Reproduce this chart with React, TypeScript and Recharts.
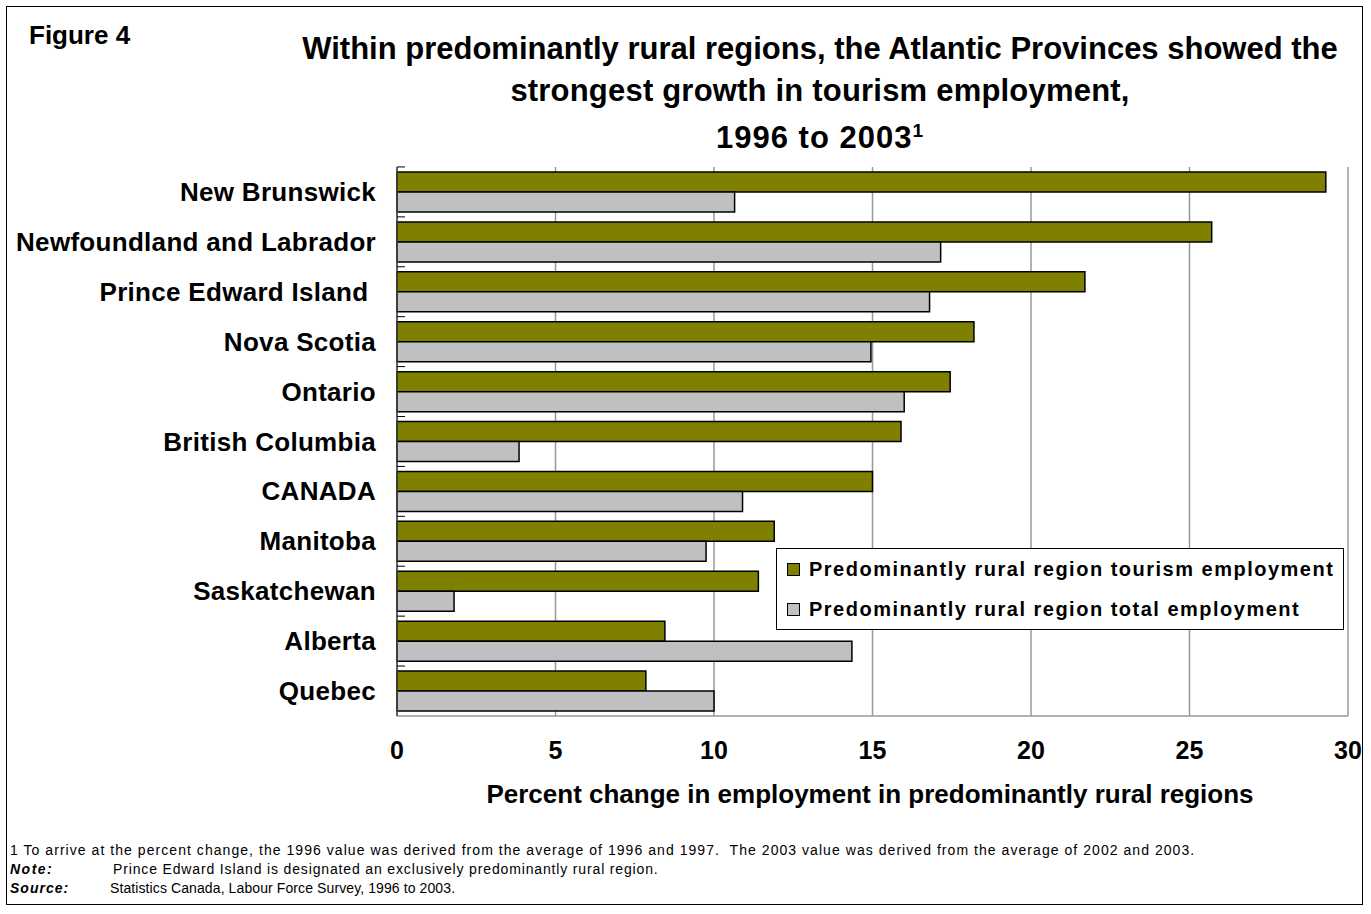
import { Bar, BarChart, CartesianGrid, Legend, XAxis, YAxis } from "recharts";

const regions = [
  "New Brunswick",
  "Newfoundland and Labrador",
  "Prince Edward Island ",
  "Nova Scotia",
  "Ontario",
  "British Columbia",
  "CANADA",
  "Manitoba",
  "Saskatchewan",
  "Alberta",
  "Quebec",
];
const tourismEmployment = [29.3, 25.7, 21.7, 18.2, 17.45, 15.9, 15.0, 11.9, 11.4, 8.45, 7.85];
const totalEmployment = [10.65, 17.15, 16.8, 14.95, 16.0, 3.85, 10.9, 9.75, 1.8, 14.35, 10.0];
const xTicks = [0, 5, 10, 15, 20, 25, 30];

const seriesNames = {
  tourism: "Predominantly rural region tourism employment",
  total: "Predominantly rural region total employment",
};

const data = regions.map((region, i) => ({
  region,
  tourism: tourismEmployment[i],
  total: totalEmployment[i],
}));

const font = "Arial, 'Liberation Sans', sans-serif";

const RegionTick = ({ x, y, payload }: any) => (
  <g>
    <line x1={397} x2={405} y1={y - 25} y2={y - 25} stroke="#000" strokeWidth={1} />
    <text
      x={x}
      y={y}
      textAnchor="end"
      dominantBaseline="central"
      fontFamily={font}
      fontSize={26}
      fontWeight="bold"
      letterSpacing={0.3}
      fill="#000"
      style={{ whiteSpace: "pre" }}
    >
      {payload.value}
    </text>
  </g>
);

const LegendBox = () => (
  <div
    style={{
      border: "1.5px solid #000",
      background: "#fff",
      width: 568,
      height: 82,
      boxSizing: "border-box",
      padding: "0 0 0 10px",
      fontFamily: font,
      fontWeight: "bold",
      fontSize: 20,
      letterSpacing: 1.5,
      textAlign: "left",
    }}
  >
    {[
      { name: seriesNames.tourism, color: "#808000" },
      { name: seriesNames.total, color: "#C0C0C0" },
    ].map((item) => (
      <div key={item.name} style={{ display: "flex", alignItems: "center", height: 40 }}>
        <span
          style={{
            width: 11,
            height: 11,
            background: item.color,
            border: "1.5px solid #000",
            marginRight: 9,
            flexShrink: 0,
          }}
        />
        {item.name}
      </div>
    ))}
  </div>
);

export default function App() {
  return (
    <div
      style={{
        position: "absolute",
        left: 0,
        top: 0,
        width: 1371,
        height: 914,
        background: "#fff",
        fontFamily: font,
        color: "#000",
      }}
    >
      <div
        style={{
          position: "absolute",
          left: 6,
          top: 6,
          width: 1357,
          height: 899,
          border: "1.5px solid #000",
          boxSizing: "border-box",
        }}
      />
      <div style={{ position: "absolute", left: 29, top: 20, fontSize: 26, fontWeight: "bold" }}>
        Figure 4
      </div>
      <div
        style={{
          position: "absolute",
          left: 260,
          width: 1120,
          top: 28,
          textAlign: "center",
          fontSize: 31,
          fontWeight: "bold",
          lineHeight: "42px",
        }}
      >
        Within predominantly rural regions, the Atlantic Provinces showed the
        <br />
        <span style={{ letterSpacing: 0.2 }}>strongest growth in tourism employment,</span>
        <div style={{ marginTop: 5, letterSpacing: 1 }}>
          1996 to 2003<sup style={{ fontSize: 19, verticalAlign: "top", lineHeight: "28px" }}>1</sup>
        </div>
      </div>

      <div style={{ position: "absolute", left: 0, top: 0 }}>
        <BarChart
          width={1371}
          height={914}
          data={data}
          layout="vertical"
          margin={{ top: 167, right: 23, left: 7, bottom: 138 }}
          barSize={20}
          barGap={0}
        >
          <CartesianGrid horizontal={false} stroke="#999" strokeWidth={1.5} />
          <XAxis
            type="number"
            domain={[0, 30]}
            ticks={xTicks}
            height={60}
            tickSize={0}
            tickMargin={25}
            tickLine={false}
            axisLine={{ stroke: "#999", strokeWidth: 1.5 }}
            tick={{ fontSize: 25, fontWeight: "bold", fill: "#000", fontFamily: font }}
          />
          <XAxis
            xAxisId="top"
            orientation="top"
            type="number"
            domain={[0, 30]}
            height={0}
            tick={false}
            tickLine={false}
            axisLine={{ stroke: "#999", strokeWidth: 1.5 }}
          />
          <YAxis
            type="category"
            dataKey="region"
            width={390}
            tickSize={0}
            tickMargin={21}
            tickLine={false}
            axisLine={{ stroke: "#444", strokeWidth: 1.5 }}
            tick={<RegionTick />}
            interval={0}
          />
          <Legend
            layout="horizontal"
            verticalAlign="middle"
            align="center"
            content={<LegendBox />}
            wrapperStyle={{ position: "absolute", left: 776, top: 548, width: 568, height: 82 }}
          />
          <Bar
            dataKey="tourism"
            name={seriesNames.tourism}
            fill="#808000"
            stroke="#000"
            strokeWidth={1.5}
            isAnimationActive={false}
          />
          <Bar
            dataKey="total"
            name={seriesNames.total}
            fill="#C0C0C0"
            stroke="#000"
            strokeWidth={1.5}
            isAnimationActive={false}
          />
        </BarChart>
      </div>

      <div
        style={{
          position: "absolute",
          left: 420,
          width: 900,
          top: 779,
          textAlign: "center",
          fontSize: 26,
          fontWeight: "bold",
        }}
      >
        Percent change in employment in predominantly rural regions
      </div>

      <div
        style={{
          position: "absolute",
          left: 10,
          top: 841,
          fontSize: 14,
          lineHeight: "19px",
          whiteSpace: "pre",
        }}
      >
        <div style={{ letterSpacing: 1.05 }}>
          1 To arrive at the percent change, the 1996 value was derived from the average of 1996 and 1997.  The 2003
          value was derived from the average of 2002 and 2003.
        </div>
        <div style={{ letterSpacing: 0.85 }}>
          <b style={{ fontStyle: "italic", letterSpacing: 1.5, display: "inline-block", width: 103 }}>Note:</b>
          Prince Edward Island is designated an exclusively predominantly rural region.
        </div>
        <div style={{ letterSpacing: 0.1 }}>
          <b style={{ fontStyle: "italic", letterSpacing: 1, display: "inline-block", width: 100 }}>Source:</b>
          Statistics Canada, Labour Force Survey, 1996 to 2003.
        </div>
      </div>
    </div>
  );
}
